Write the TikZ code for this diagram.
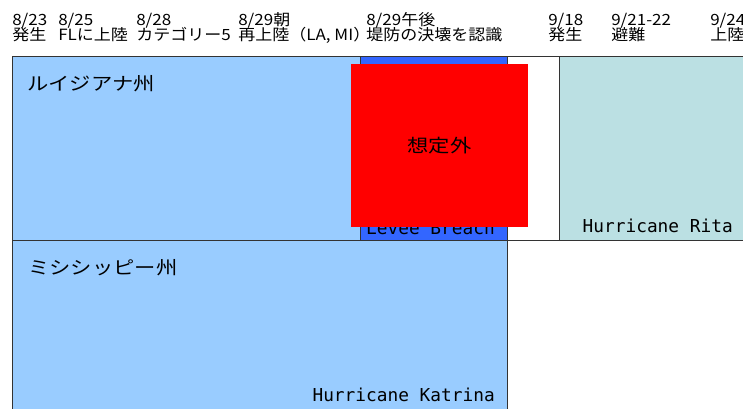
\documentclass[tikz,border=0pt]{standalone}
\usepackage{fontspec}
\setmainfont{Noto Sans CJK JP}[FakeStretch=1.17]
\newfontfamily\hdrfont{Noto Sans CJK JP}[FakeStretch=1.1]
\newfontfamily\monofnt{DejaVu Sans Mono}
\definecolor{lablue}{HTML}{99CCFF}
\definecolor{levee}{HTML}{3366FF}
\definecolor{rita}{HTML}{BBE0E3}
\definecolor{edge}{HTML}{333333}
\tikzset{
  hdr/.style={anchor=base west, inner sep=0pt, font=\hdrfont\fontsize{11.6}{13}\selectfont},
  region/.style={draw=edge, line width=0.75pt},
  statelbl/.style={anchor=west, inner sep=0pt, font=\fontsize{13.65}{16}\selectfont},
  englbl/.style={anchor=base east, inner sep=0pt, font=\monofnt\fontsize{13.35}{15}\selectfont},
}
\begin{document}
\begin{tikzpicture}[x=0.75pt, y=-0.75pt]
\useasboundingbox (0,0) rectangle (743,409);
\clip (0,0) rectangle (743,409);
\fill[white] (0,0) rectangle (743,409);
% regions
\path[region, fill=lablue] (12,57) rectangle (360,241);
\path[region, fill=levee] (360,57) rectangle (507,241);
\path[region, fill=white] (507,57) rectangle (559,241);
\path[region, fill=rita] (559,57) rectangle (760,241);
\path[region, fill=lablue] (12,241) rectangle (507,420);
% labels in regions
\node[statelbl] (la) at (27,84) {ルイジアナ州};
\node[statelbl] (ms) at (28,268) {ミシシッピー州};
\node[englbl] (lb) at (495,234.5) {Levee Breach};
\node[englbl] (kat) at (495,402) {Hurricane Katrina};
\node[englbl] (rit) at (733,233) {Hurricane Rita};
% red box
\node[fill=red, minimum width=132.75pt, minimum height=122.25pt, inner sep=0pt,
      font=\fontsize{13.65}{16}\selectfont] (unx) at (439.5,145.5) {想定外};
% header
\node[hdr] (d1) at (12,26) {8/23};
\node[hdr] (t1) at (12,40.5) {発生};
\node[hdr] (d2) at (58,26) {8/25};
\node[hdr] (t2) at (58,40.5) {FLに上陸};
\node[hdr] (d3) at (136,26) {8/28};
\node[hdr] (t3) at (136,40.5) {カテゴリー5};
\node[hdr] (d4) at (238,26) {8/29朝};
\node[hdr] (t4) at (238,40.5) {再上陸（LA, MI）};
\node[hdr] (d5) at (366,26) {8/29午後};
\node[hdr] (t5) at (366,40.5) {堤防の決壊を認識};
\node[hdr] (d6) at (548,26) {9/18};
\node[hdr] (t6) at (548,40.5) {発生};
\node[hdr] (d7) at (611,26) {9/21-22};
\node[hdr] (t7) at (611,40.5) {避難};
\node[hdr] (d8) at (710,26) {9/24};
\node[hdr] (t8) at (710,40.5) {上陸};
\end{tikzpicture}
\end{document}
